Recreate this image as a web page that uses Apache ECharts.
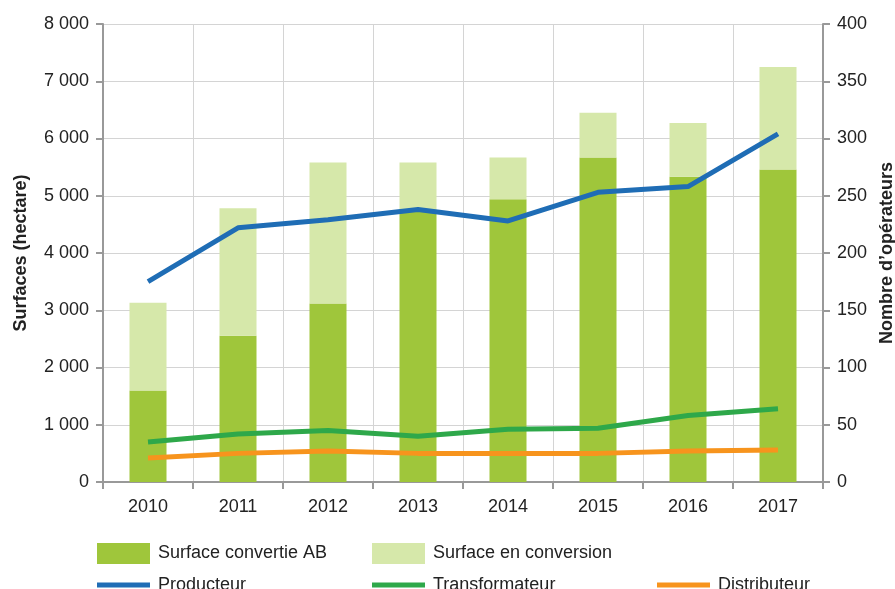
<!DOCTYPE html>
<html>
<head>
<meta charset="utf-8">
<script src="https://cdn.jsdelivr.net/npm/echarts@6/dist/echarts.min.js"></script>
<style>html,body{margin:0;padding:0;background:#fff}#c{width:895px;height:589px}</style>
</head>
<body>
<div id="c"></div>
<script>
const years = ['2010','2011','2012','2013','2014','2015','2016','2017'];
const surfaceConvertie = [1600, 2555, 3120, 4720, 4940, 5670, 5330, 5460];
const surfaceTotale = [3130, 4780, 5580, 5580, 5670, 6450, 6270, 7250];
const surfaceConversion = surfaceTotale.map((t, i) => t - surfaceConvertie[i]);
const producteur = [175, 222, 229, 238, 228, 253, 258, 304];
const transformateur = [35, 42, 45, 40, 46, 47, 58, 64];
const distributeur = [21, 25, 27, 25, 25, 25, 27, 28];

const fmt = v => String(v).replace(/\B(?=(\d{3})+(?!\d))/g, '\u00a0');
const FONT = 'Liberation Sans, Arial, sans-serif';
const FS = 18;
const txt = {color: '#222', fontSize: FS, fontFamily: FONT};
const C = {dark: '#9fc63b', light: '#d6e8aa', blue: '#1f6db5', green: '#2ea84a', orange: '#f7941d'};

const chart = echarts.init(document.getElementById('c'));
const lineLegend = (name, left) => ({
  data: [name], left: left, top: 576, padding: 0, icon: 'rect', itemWidth: 53, itemHeight: 5,
  itemGap: 0, textStyle: Object.assign({}, txt, {padding: [0, 0, 0, 3]}), selectedMode: false
});
const barLegend = (name, left) => ({
  data: [name], left: left, top: 543, padding: 0, icon: 'rect', itemWidth: 53, itemHeight: 21,
  itemGap: 0, textStyle: Object.assign({}, txt, {padding: [0, 0, 0, 3]}), selectedMode: false
});
chart.setOption({
  animation: false,
  legend: [
    barLegend('Surface convertie AB', 97),
    barLegend('Surface en conversion', 372),
    lineLegend('Producteur', 97),
    lineLegend('Transformateur', 372),
    lineLegend('Distributeur', 657)
  ],
  grid: {left: 103, right: 72, top: 24, bottom: 107, containLabel: false, outerBoundsMode: 'none'},
  xAxis: {
    type: 'category', data: years, boundaryGap: true,
    axisLine: {lineStyle: {color: '#999', width: 2}},
    axisTick: {show: true, length: 7, lineStyle: {color: '#999', width: 2}},
    axisLabel: Object.assign({}, txt, {margin: 16}),
    splitLine: {show: true, lineStyle: {color: '#d4d4d4', width: 1}}
  },
  yAxis: [{
    type: 'value', min: 0, max: 8000, interval: 1000,
    name: 'Surfaces (hectare)', nameLocation: 'middle', nameGap: 73,
    nameTextStyle: {color: '#222', fontSize: FS, fontWeight: 'bold', fontFamily: FONT},
    axisLine: {show: true, lineStyle: {color: '#999', width: 2}},
    axisTick: {show: true, length: 7, lineStyle: {color: '#999', width: 2}},
    axisLabel: Object.assign({}, txt, {margin: 14, formatter: fmt}),
    splitLine: {lineStyle: {color: '#d4d4d4', width: 1}}
  }, {
    type: 'value', min: 0, max: 400, interval: 50,
    name: 'Nombre d\u2019opérateurs', nameLocation: 'middle', nameGap: 49,
    nameTextStyle: {color: '#222', fontSize: FS, fontWeight: 'bold', fontFamily: FONT},
    axisLine: {show: true, lineStyle: {color: '#999', width: 2}},
    axisTick: {show: true, length: 7, lineStyle: {color: '#999', width: 2}},
    axisLabel: Object.assign({}, txt, {margin: 14}),
    splitLine: {show: false}
  }],
  series: [
    {name: 'Surface convertie AB', type: 'bar', stack: 's', data: surfaceConvertie, barWidth: 37,
      itemStyle: {color: C.dark}},
    {name: 'Surface en conversion', type: 'bar', stack: 's', data: surfaceConversion, barWidth: 37,
      itemStyle: {color: C.light}},
    {name: 'Producteur', type: 'line', yAxisIndex: 1, data: producteur, symbol: 'none',
      lineStyle: {color: C.blue, width: 5}, itemStyle: {color: C.blue}},
    {name: 'Transformateur', type: 'line', yAxisIndex: 1, data: transformateur, symbol: 'none',
      lineStyle: {color: C.green, width: 5}, itemStyle: {color: C.green}},
    {name: 'Distributeur', type: 'line', yAxisIndex: 1, data: distributeur, symbol: 'none',
      lineStyle: {color: C.orange, width: 5}, itemStyle: {color: C.orange}}
  ]
});
</script>
</body>
</html>
